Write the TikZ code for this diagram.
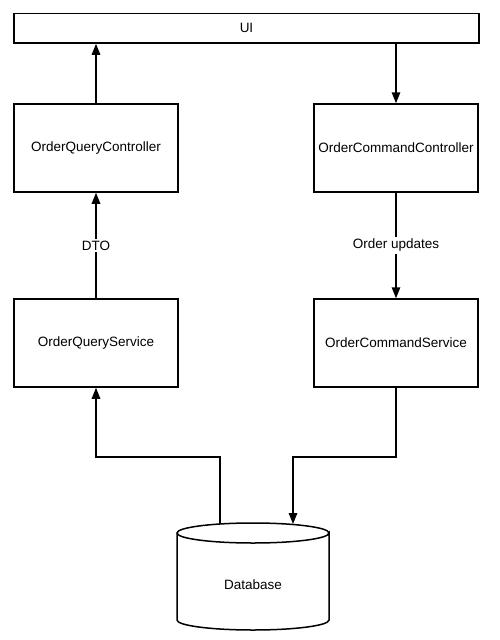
\documentclass[tikz,border=0pt]{standalone}
\usepackage{fontspec}
\setmainfont{Liberation Sans}
\usepackage{tikz}
\usetikzlibrary{arrows.meta, positioning, calc, shapes.geometric}
\definecolor{LineBlack}{HTML}{000000}

\begin{document}
\begin{tikzpicture}[x=1pt, y=-1pt,
    box/.style={draw=LineBlack, line width=1.5pt, fill=white, font=\fontsize{13.5}{16}\selectfont},
    flow/.style={LineBlack, line width=1.5pt, -{Triangle[length=11pt, width=8.5pt]}},
    lbl/.style={fill=white, inner sep=2pt, font=\fontsize{13.5}{16}\selectfont}]
    \useasboundingbox (0,0) rectangle (499,640);

    % UI bar
    \node[box, minimum width=465pt, minimum height=29.5pt] (ui) at (246.5,28.3) {UI};

    % Query side
    \node[box, minimum width=164pt, minimum height=88pt] (qc) at (96,148) {OrderQueryController};
    \node[box, minimum width=164pt, minimum height=88pt] (qs) at (96,343) {OrderQueryService};

    % Command side
    \node[box, minimum width=164pt, minimum height=88pt] (cc) at (396,148) {OrderCommandController};
    \node[box, minimum width=164pt, minimum height=88pt] (cs) at (396,343) {OrderCommandService};

    % Database
    \draw[LineBlack, line width=1.5pt, fill=white]
        (177,533) -- (177,620) arc[start angle=180, end angle=360, x radius=76, y radius=-10]
        -- (329,533) arc[start angle=0, end angle=360, x radius=76, y radius=10];
    \node[font=\fontsize{13.5}{16}\selectfont] (db) at (253,585) {Database};
    \coordinate (dbL) at (220,524);
    \coordinate (dbR) at (293,524);
    \coordinate (jL) at (220,457);
    \coordinate (jR) at (293,457);

    % Connectors
    \draw[flow] (qc.north) -- (qc.north |- ui.south);
    \draw[flow] (ui.south -| cc.north) -- (cc.north);
    \draw[flow] (qs.north) -- node[lbl] {DTO} (qc.south);
    \draw[flow] (cc.south) -- node[lbl] {Order updates} (cs.north);
    \draw[flow] (dbL) -- (jL) -| (qs.south);
    \draw[flow] (cs.south) |- (jR) -- (dbR);
\end{tikzpicture}
\end{document}
